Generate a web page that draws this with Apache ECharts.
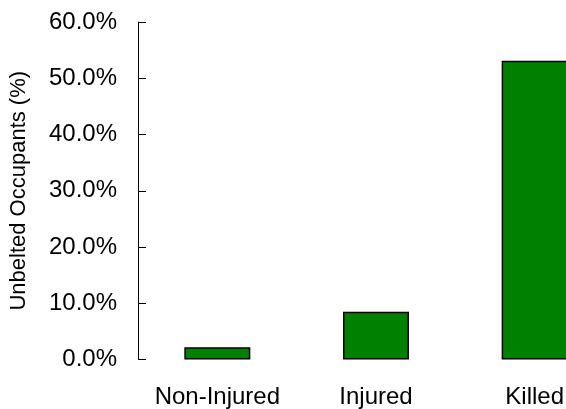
<!DOCTYPE html>
<html>
<head>
<meta charset="utf-8">
<script src="https://cdn.jsdelivr.net/npm/echarts@6/dist/echarts.min.js"></script>
<style>
html,body{margin:0;padding:0;background:#fff;}
#chart{width:566px;height:409px;}
</style>
</head>
<body>
<div id="chart"></div>
<script>
var categories = ['Non-Injured', 'Injured', 'Killed'];
var unbeltedPct = [2.2, 8.5, 53.1];
var yTicks = [0, 10, 20, 30, 40, 50, 60];

var chart = echarts.init(document.getElementById('chart'), null, {renderer: 'canvas'});
chart.setOption({
  animation: false,
  backgroundColor: '#fff',
  grid: {left: 138, top: 22, bottom: 49.5, width: 476, containLabel: false, outerBoundsMode: 'none'},
  xAxis: {
    type: 'category',
    data: categories,
    boundaryGap: true,
    axisLine: {show: false},
    axisTick: {show: false},
    axisLabel: {interval: 0, hideOverlap: false, color: '#000', fontSize: 24, fontFamily: 'Liberation Sans, Arial, sans-serif', margin: 26}
  },
  yAxis: {
    type: 'value',
    min: yTicks[0],
    max: yTicks[yTicks.length - 1],
    interval: 10,
    name: 'Unbelted Occupants (%)',
    nameLocation: 'middle',
    nameGap: 108,
    nameRotate: 90,
    nameTextStyle: {color: '#000', fontSize: 22, fontFamily: 'Liberation Sans, Arial, sans-serif'},
    axisLine: {show: true, lineStyle: {color: '#000', width: 1}},
    axisTick: {show: true, inside: true, length: 8, lineStyle: {color: '#000', width: 1}},
    splitLine: {show: false},
    axisLabel: {
      color: '#000', fontSize: 24, fontFamily: 'Liberation Sans, Arial, sans-serif', margin: 21,
      formatter: function (v) { return v.toFixed(1) + '%'; }
    }
  },
  series: [{
    type: 'bar',
    data: unbeltedPct,
    barWidth: 66,
    itemStyle: {color: '#008000', borderColor: '#000', borderWidth: 1.5}
  }]
});
</script>
</body>
</html>
